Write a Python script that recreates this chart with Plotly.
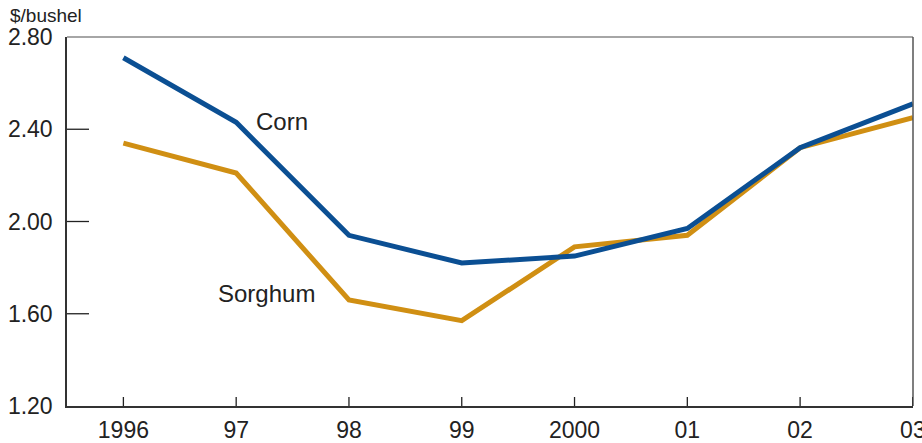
import plotly.graph_objects as go

years = [1996, 1997, 1998, 1999, 2000, 2001, 2002, 2003]
year_labels = ["1996", "97", "98", "99", "2000", "01", "02", "03"]
corn = [2.71, 2.43, 1.94, 1.82, 1.85, 1.97, 2.32, 2.51]
sorghum = [2.34, 2.21, 1.66, 1.57, 1.89, 1.94, 2.32, 2.45]
y_ticks = [1.20, 1.60, 2.00, 2.40, 2.80]
y_tick_labels = ["1.20", "1.60", "2.00", "2.40", "2.80"]

CORN_COLOR = "#0b4f93"
SORGHUM_COLOR = "#d08f13"
FONT = "Liberation Sans, Arial, sans-serif"
TICK_COLOR = "#222"

fig = go.Figure()
fig.add_trace(go.Scatter(x=years, y=sorghum, mode="lines", name="Sorghum",
                         line=dict(color=SORGHUM_COLOR, width=5), cliponaxis=False))
fig.add_trace(go.Scatter(x=years, y=corn, mode="lines", name="Corn",
                         line=dict(color=CORN_COLOR, width=5), cliponaxis=False))

fig.add_annotation(x=1997.41, y=2.434, text="Corn", showarrow=False,
                   font=dict(family=FONT, size=24, color="#222"), xanchor="center", yanchor="middle")
fig.add_annotation(x=1997.27, y=1.688, text="Sorghum", showarrow=False,
                   font=dict(family=FONT, size=24, color="#222"), xanchor="center", yanchor="middle")
fig.add_annotation(x=0, xref="paper", xshift=-59, y=1, yref="paper", yshift=22,
                   text="$/bushel", showarrow=False, xanchor="left", yanchor="middle",
                   font=dict(family=FONT, size=19, color="#222"))

# gray top and right frame
fig.add_shape(type="line", xref="paper", yref="paper", x0=0, x1=1, y0=1, y1=1,
              line=dict(color="#888", width=1.5))
fig.add_shape(type="line", xref="paper", yref="paper", x0=1, x1=1, y0=0, y1=1,
              line=dict(color="#555", width=1.5))

# inward tick marks at the axis tick values
for xv in years:
    fig.add_shape(type="line", xref="x", yref="paper", ysizemode="pixel", yanchor=0,
                  x0=xv, x1=xv, y0=0, y1=9, line=dict(color=TICK_COLOR, width=1.3))
for yv in y_ticks[1:-1]:
    fig.add_shape(type="line", xref="paper", yref="y", xsizemode="pixel", xanchor=0,
                  x0=0, x1=22, y0=yv, y1=yv, line=dict(color=TICK_COLOR, width=1.3))

fig.update_layout(
    template="none",
    width=922, height=443,
    margin=dict(l=67, r=9, t=37, b=37),
    plot_bgcolor="white", paper_bgcolor="white",
    showlegend=False,
    font=dict(family=FONT, color="#222"),
)
fig.update_xaxes(range=[1995.5, 2003.001], tickmode="array", tickvals=years, ticktext=year_labels,
                 showgrid=False, zeroline=False, showline=True, linecolor="#333", linewidth=1.5,
                 ticks="", tickfont=dict(family=FONT, size=23, color="#222"), automargin=False,
                 ticklabelstandoff=3, ticklabeloverflow="allow")
fig.update_yaxes(range=[1.20, 2.80], tickmode="array", tickvals=y_ticks, ticktext=y_tick_labels,
                 showgrid=False, zeroline=False, showline=True, linecolor="#333", linewidth=1.5,
                 ticks="", tickfont=dict(family=FONT, size=23, color="#222"), automargin=False,
                 ticklabelstandoff=8)

fig.write_html("out.html", config={"displayModeBar": False},
               post_script="document.body.style.margin='0';document.body.style.overflow='hidden';")
